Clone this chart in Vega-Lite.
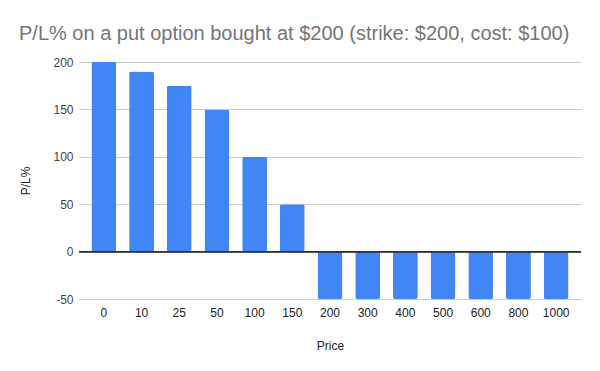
{
  "$schema": "https://vega.github.io/schema/vega-lite/v6.json",
  "width": 502,
  "height": 237,
  "autosize": {"type": "none"},
  "padding": {"left": 79, "top": 62, "right": 19, "bottom": 72},
  "background": "white",
  "config": {
    "font": "Liberation Sans",
    "view": {"stroke": null}
  },
  "title": {
    "text": "P/L% on a put option bought at $200 (strike: $200, cost: $100)",
    "anchor": "start",
    "frame": "group",
    "dx": -60,
    "offset": 12,
    "fontSize": 20,
    "fontWeight": "normal",
    "color": "#757575",
    "font": "Liberation Sans"
  },
  "data": {
    "values": [
      {"Price": "0", "PL": 200},
      {"Price": "10", "PL": 190},
      {"Price": "25", "PL": 175},
      {"Price": "50", "PL": 150},
      {"Price": "100", "PL": 100},
      {"Price": "150", "PL": 50},
      {"Price": "200", "PL": -50},
      {"Price": "300", "PL": -50},
      {"Price": "400", "PL": -50},
      {"Price": "500", "PL": -50},
      {"Price": "600", "PL": -50},
      {"Price": "800", "PL": -50},
      {"Price": "1000", "PL": -50}
    ]
  },
  "layer": [
    {
      "mark": {"type": "bar", "color": "#4285F4", "cornerRadius": 2},
      "encoding": {
        "x": {
          "field": "Price",
          "type": "ordinal",
          "sort": null,
          "scale": {"paddingInner": 0.34, "paddingOuter": 0.33},
          "axis": {
            "labelAngle": 0,
            "domain": false,
            "ticks": false,
            "labelPadding": 8,
            "labelFontSize": 12,
            "labelColor": "#222222",
            "titleFontSize": 12,
            "titleFontWeight": "normal",
            "titleColor": "#222222",
            "titlePadding": 22
          }
        },
        "y": {
          "field": "PL",
          "type": "quantitative",
          "title": "P/L%",
          "scale": {"domain": [-50, 200], "nice": false},
          "axis": {
            "values": [-50, 0, 50, 100, 150, 200],
            "labelExpr": "'' + datum.value",
            "domain": false,
            "ticks": false,
            "labelPadding": 6,
            "labelFontSize": 12,
            "labelColor": "#444444",
            "gridColor": "#cccccc",
            "titleFontSize": 12,
            "titleFontWeight": "normal",
            "titleColor": "#222222",
            "titlePadding": 20
          }
        }
      }
    },
    {
      "mark": {"type": "rule", "color": "#333333", "strokeWidth": 1},
      "encoding": {"y": {"datum": 0}}
    }
  ]
}
